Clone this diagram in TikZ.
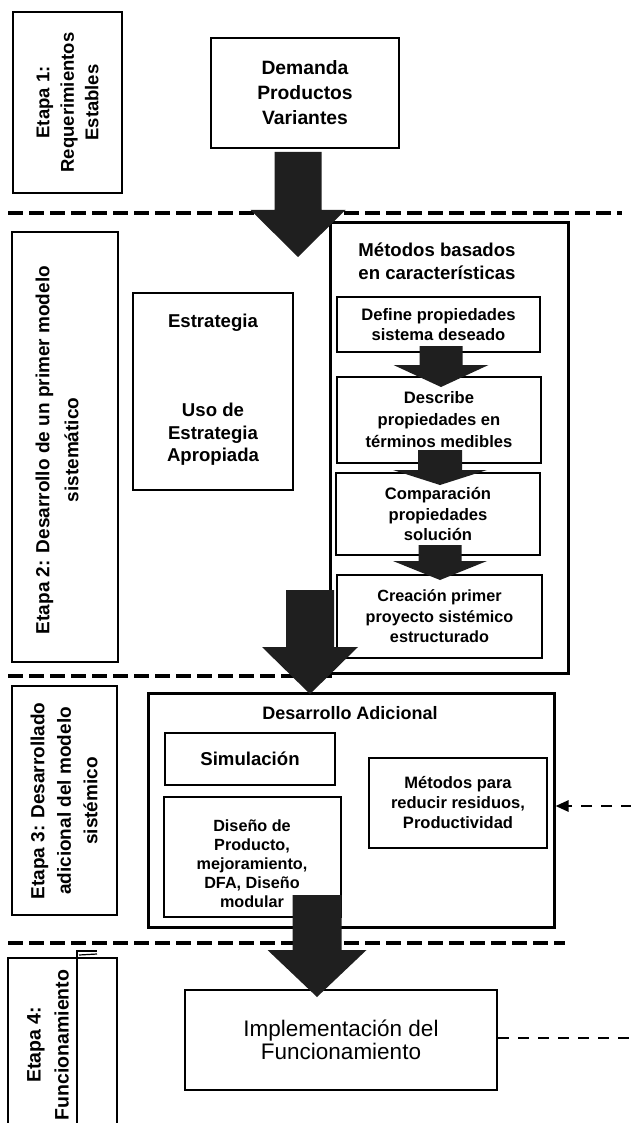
\documentclass[tikz,border=0pt]{standalone}
\usepackage{fontspec}
\setmainfont{Liberation Sans}
\usetikzlibrary{calc,arrows.meta}
\newcommand\fsz[2]{\fontsize{#1}{#2}\selectfont}
% block arrow: start point, tip, half shaft width, half head width, head length
\newcommand\blockarrow[5]{%
  \fill[blockfill] ($(#1)+(-#3,0)$) -- ($(#1)+(#3,0)$) -- ($(#2)+(#3,-#5)$)
    -- ($(#2)+(#4,-#5)$) -- (#2) -- ($(#2)+(-#4,-#5)$) -- ($(#2)+(-#3,-#5)$) -- cycle;}
\begin{document}
\begin{tikzpicture}[x=1pt,y=-1pt,
  box/.style={draw,line width=2.2pt,rectangle,inner sep=0pt,align=center},
  bigbox/.style={box,line width=3pt},
  stagebox/.style={box,line width=2.2pt},
  txt/.style={inner sep=0pt,align=center},
  blockfill/.style={fill=black!88},
  separator/.style={line width=3.4pt,dash pattern=on 15pt off 6pt},
  feed/.style={line width=2.6pt,dash pattern=on 11pt off 9pt},
]
\useasboundingbox (0,0) rectangle (630,1123);

% ---------------- stage 1
\node[stagebox,minimum width=109,minimum height=181] (st1) at (67.5,102.5) {};
\node[txt,rotate=90,font=\bfseries\fsz{18.5}{24.5}] at (st1.center)
  {Etapa 1:\\Requerimientos\\Estables};
\node[box,minimum width=188,minimum height=110,font=\bfseries\fsz{19.3}{25}] (dem) at (305,93)
  {Demanda\\Productos\\Variantes};

% ---------------- separators
\coordinate (s1l) at (8,213);   \coordinate (s1r) at (622,213);
\coordinate (s2l) at (8,676);   \coordinate (s2r) at (332,676);
\coordinate (s3l) at (8,943);   \coordinate (s3r) at (565,943);
\draw[separator] (s1l) -- (s1r);
\draw[separator] (s2l) -- (s2r);
\draw[separator] (s3l) -- (s3r);

% ---------------- stage 2
\node[stagebox,minimum width=106,minimum height=430] (st2) at (65,447) {};
\node[txt,rotate=90,font=\bfseries\fsz{19}{29}] at (57,450)
  {Etapa 2: Desarrollo de un primer modelo\\sistemático};
\node[box,minimum width=160,minimum height=197] (estr) at (213,391.5) {};
\node[txt,font=\bfseries\fsz{18.6}{22.5}] at (213,323) {Estrategia};
\node[txt,font=\bfseries\fsz{18.6}{22.5}] at (213,434.5) {Uso de\\Estrategia\\Apropiada};

\node[bigbox,minimum width=238,minimum height=450] (met) at (449,448) {};
\node[txt,font=\bfseries\fsz{18.6}{23}] at (437,261.5) {Métodos basados\\en características};
\node[box,minimum width=203,minimum height=55,font=\bfseries\fsz{16.6}{19.5}] (d1) at (438.5,324.5)
  {Define propiedades\\sistema deseado};
\node[box,minimum width=204,minimum height=86,font=\bfseries\fsz{16.6}{22}] (d2) at (439,420)
  {Describe\\propiedades en\\términos medibles};
\node[box,minimum width=204,minimum height=82,font=\bfseries\fsz{16.6}{20.5}] (d3) at (438,514)
  {Comparación\\propiedades\\solución};
\node[box,minimum width=205,minimum height=83,font=\bfseries\fsz{16.2}{20.5}] (d4) at (439.5,616.5)
  {Creación primer\\proyecto sistémico\\estructurado};

% ---------------- stage 3
\node[stagebox,minimum width=105,minimum height=229] (st3) at (64.5,800.5) {};
\node[txt,rotate=90,font=\bfseries\fsz{19}{26.5}] at (64,801)
  {Etapa 3: Desarrollado\\adicional del modelo\\sistémico};
\node[bigbox,minimum width=406,minimum height=234] (des) at (351,810) {};
\node[txt,font=\bfseries\fsz{18}{22}] at (350,713) {Desarrollo Adicional};
\node[box,minimum width=170,minimum height=52,font=\bfseries\fsz{18.6}{22}] (sim) at (250,759) {Simulación};
\node[box,minimum width=177,minimum height=120] (dis) at (252.5,857) {};
\node[txt,font=\bfseries\fsz{16.2}{19}] at (252,864) {Diseño de\\Producto,\\mejoramiento,\\DFA, Diseño\\modular};
\node[box,minimum width=178,minimum height=90,font=\bfseries\fsz{16.5}{20}] (mpr) at (458,803)
  {Métodos para\\reducir residuos,\\Productividad};

% ---------------- stage 4
\coordinate (st4a) at (8,1123);
\coordinate (st4b) at (117,1123);
\draw[line width=2.2pt] (st4a) |- (117,958) -- (st4b);
\draw[line width=1.8pt] (77,1123) -- (77,951) -- (97,951);
\draw[line width=1.2pt] (79,955) -- (97,954);
\node[txt,rotate=90,font=\bfseries\fsz{19.5}{28}] at (48,1045) {Etapa 4:\\Funcionamiento};
\node[box,minimum width=312,minimum height=100,font=\fsz{22.5}{23.5}] (imp) at (341,1040)
  {Implementación del\\Funcionamiento};

% ---------------- block arrows between stages and steps
\coordinate (a1s) at (298,152);  \coordinate (a1e) at (298,257);
\coordinate (a2s) at (310,590);  \coordinate (a2e) at (310,694);
\coordinate (a3s) at (317,895);  \coordinate (a3e) at (317,997);
\blockarrow{a1s}{a1e}{23.5}{47.5}{47}
\blockarrow{a2s}{a2e}{24}{48}{47}
\blockarrow{a3s}{a3e}{24.5}{49.5}{47}

\coordinate (b1s) at (441,346);  \coordinate (b1e) at (441,387);
\coordinate (b2s) at (440,450);  \coordinate (b2e) at (440,485);
\coordinate (b3s) at (440,545);  \coordinate (b3e) at (440,580);
\blockarrow{b1s}{b1e}{21.5}{47.5}{22}
\blockarrow{b2s}{b2e}{22}{47}{15}
\blockarrow{b3s}{b3e}{21.5}{47}{19}

% ---------------- feedback lines from the right
\coordinate (f1) at (632,806);
\coordinate (f2) at (632,1038);
\draw[feed,-{Triangle[length=13pt,width=11pt]}] (f1) -- (f1 -| des.east);
\draw[feed] (imp.east |- f2) -- (f2);
\end{tikzpicture}
\end{document}
